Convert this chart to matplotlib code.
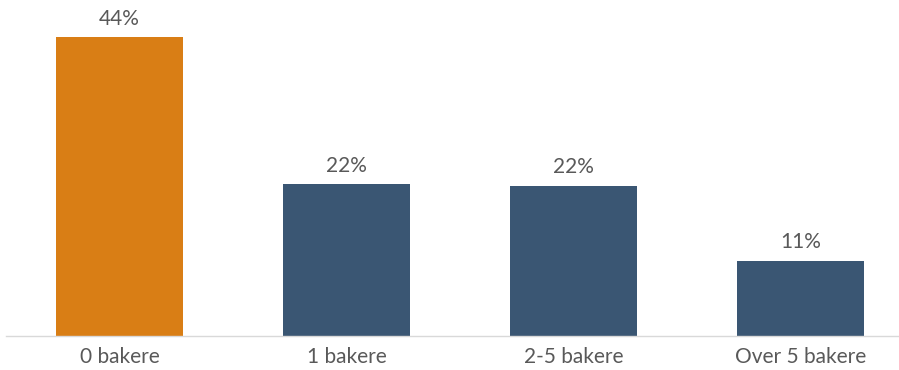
import matplotlib.pyplot as plt

categories = ["0 bakere", "1 bakere", "2-5 bakere", "Over 5 bakere"]
values = [44.0, 22.3, 22.1, 11.1]
labels = ["44%", "22%", "22%", "11%"]
colors = ["#D97E15", "#3A5673", "#3A5673", "#3A5673"]

plt.rcParams["font.family"] = ["Lato", "DejaVu Sans"]

W, H = 899, 370
fig = plt.figure(figsize=(W / 100, H / 100), dpi=100)
# axes spans from x=6px to beyond right edge; baseline at y=336px
ax = fig.add_axes([6 / W, (H - 336) / H, (W - 6) / W, 336 / H])

x = range(len(categories))
ax.bar(x, values, width=0.56, color=colors)
for xi, v, lab in zip(x, values, labels):
    ax.annotate(lab, (xi, v), xytext=(0, 6), textcoords="offset points",
                ha="center", va="bottom", fontsize=15, color="#595959")

ax.set_xlim(-0.5, (W - 119.5) / 227)
ax.set_ylim(0, 44.0 * 336 / 299)
ax.set_xticks(list(x))
ax.set_xticklabels(categories, fontsize=15, color="#595959")
ax.tick_params(axis="x", length=0, pad=8)
ax.set_yticks([])
for s in ["top", "right", "left"]:
    ax.spines[s].set_visible(False)
ax.spines["bottom"].set_color("#D9D9D9")
ax.spines["bottom"].set_linewidth(1.0)

fig.savefig("out.png", dpi=100)
